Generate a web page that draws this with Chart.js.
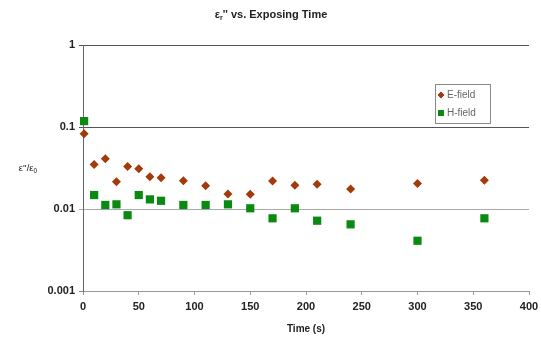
<!DOCTYPE html>
<html>
<head>
<meta charset="utf-8">
<script src="https://cdn.jsdelivr.net/npm/chart.js@4/dist/chart.umd.min.js"></script>
<style>
  html, body { margin: 0; padding: 0; background: #fff; }
  #wrap { width: 541px; height: 339px; position: relative; }
</style>
</head>
<body>
<div id="wrap"><canvas id="chart"></canvas></div>
<script>
// ── data ──
const times   = [1, 10, 20, 30, 40, 50, 60, 70, 90, 110, 130, 150, 170, 190, 210, 240, 300, 360];
const eField  = [0.083, 0.035, 0.041, 0.0215, 0.033, 0.031, 0.0248, 0.0241, 0.0221, 0.0192, 0.0152, 0.0151, 0.0219, 0.0195, 0.020, 0.0175, 0.0204, 0.0224];
const hField  = [0.118, 0.0148, 0.0112, 0.0114, 0.0084, 0.0148, 0.0131, 0.0126, 0.0112, 0.0112, 0.0114, 0.0102, 0.0077, 0.0102, 0.0072, 0.0065, 0.0041, 0.0077];
const yTicks  = [0.001, 0.01, 0.1, 1];
const yLabels = ['0.001', '0.01', '0.1', '1'];
const seriesNames = ['E-field', 'H-field'];

const E_COLOR = '#a33a0b';
const H_COLOR = '#0b8a12';
const FONT = "'Liberation Sans', Arial, sans-serif";

const toPts = (xs, ys) => xs.map((x, i) => ({ x, y: ys[i] }));

// title, y label and legend drawn by hand (subscripts, horizontal label, inset box)
const decor = {
  id: 'decor',
  afterDraw(chart) {
    const ctx = chart.ctx;
    ctx.save();
    ctx.fillStyle = '#222';
    ctx.textBaseline = 'middle';

    // title: εr'' vs. Exposing Time
    const t1 = 'ε', t3 = "'' vs. Exposing Time";
    ctx.font = 'bold 11px ' + FONT;
    const w1 = ctx.measureText(t1).width;
    ctx.font = 'bold 7px ' + FONT;
    const w2 = ctx.measureText('r').width;
    ctx.font = 'bold 11px ' + FONT;
    const w3 = ctx.measureText(t3).width;
    let x = 271 - (w1 + w2 + w3) / 2;
    ctx.textAlign = 'left';
    ctx.fillText(t1, x, 15); x += w1;
    ctx.font = 'bold 7px ' + FONT;
    ctx.fillText('r', x, 18); x += w2;
    ctx.font = 'bold 11px ' + FONT;
    ctx.fillText(t3, x, 15);

    // y label: ε''/ε0
    ctx.font = '9.5px ' + FONT;
    const a = "ε''/ε";
    const wa = ctx.measureText(a).width;
    ctx.font = '6.5px ' + FONT;
    const wb = ctx.measureText('0').width;
    let lx = 28 - (wa + wb) / 2;
    ctx.font = '9.5px ' + FONT;
    ctx.fillText(a, lx, 168);
    ctx.font = '6.5px ' + FONT;
    ctx.fillText('0', lx + wa, 171);

    // x title
    ctx.font = 'bold 10px ' + FONT;
    ctx.textAlign = 'center';
    ctx.fillText('Time (s)', 306, 329);

    // legend box
    ctx.strokeStyle = '#8a8a8a';
    ctx.lineWidth = 1;
    ctx.strokeRect(435.5, 84.5, 55, 39);
    ctx.textAlign = 'left';
    ctx.font = '10px ' + FONT;
    chart.data.datasets.forEach((ds, i) => {
      const ly = 95 + i * 18;
      Chart.helpers.drawPoint(ctx, {
        pointStyle: ds.pointStyle,
        radius: i === 0 ? 3.2 : 4.2,
        borderWidth: 0
      }, 441, ly);
      ctx.fillStyle = ds.backgroundColor;
      ctx.fill();
      ctx.fillStyle = '#666';
      ctx.fillText(ds.label, 447, ly + 0.5);
    });
    ctx.restore();
  }
};

const gridColors = { 1: '#555', 0.1: '#555', 0.01: '#aaa', 0.001: '#888' };

new Chart(document.getElementById('chart'), {
  type: 'scatter',
  data: {
    datasets: [
      { label: seriesNames[0], data: toPts(times, eField), pointStyle: 'rectRot', pointRadius: 4.5,
        backgroundColor: E_COLOR, borderColor: E_COLOR, borderWidth: 0, clip: false },
      { label: seriesNames[1], data: toPts(times, hField), pointStyle: 'rect', pointRadius: 5.8,
        backgroundColor: H_COLOR, borderColor: H_COLOR, borderWidth: 0, clip: false },
    ]
  },
  options: {
    responsive: true,
    maintainAspectRatio: false,
    animation: false,
    layout: { padding: { top: 45, right: 12, left: 0, bottom: 0 } },
    plugins: { legend: { display: false }, tooltip: { enabled: false }, title: { display: false } },
    scales: {
      x: {
        type: 'linear', min: 0, max: 400,
        afterFit: s => { s.height = 48; s.paddingRight = 0; s.paddingLeft = 0; },
        ticks: { stepSize: 50, color: '#222', padding: 5, font: { family: FONT, size: 11, weight: 'bold' }, maxRotation: 0 },
        grid: { drawOnChartArea: false, tickLength: 4, color: '#999' },
        border: { color: '#999' }
      },
      y: {
        type: 'logarithmic', min: 0.001, max: 1,
        afterFit: s => { s.width = 83; s.paddingTop = 0; s.paddingBottom = 0; },
        afterBuildTicks: s => { s.ticks = yTicks.map(v => ({ value: v })); },
        ticks: {
          color: '#222', padding: 4, font: { family: FONT, size: 11, weight: 'bold' },
          callback: v => yLabels[yTicks.indexOf(v)] ?? ''
        },
        grid: {
          tickLength: 4,
          color: c => gridColors[c.tick ? c.tick.value : 1] || '#888',
          lineWidth: 1
        },
        border: { color: '#666' }
      }
    }
  },
  plugins: [decor]
});
</script>
</body>
</html>
